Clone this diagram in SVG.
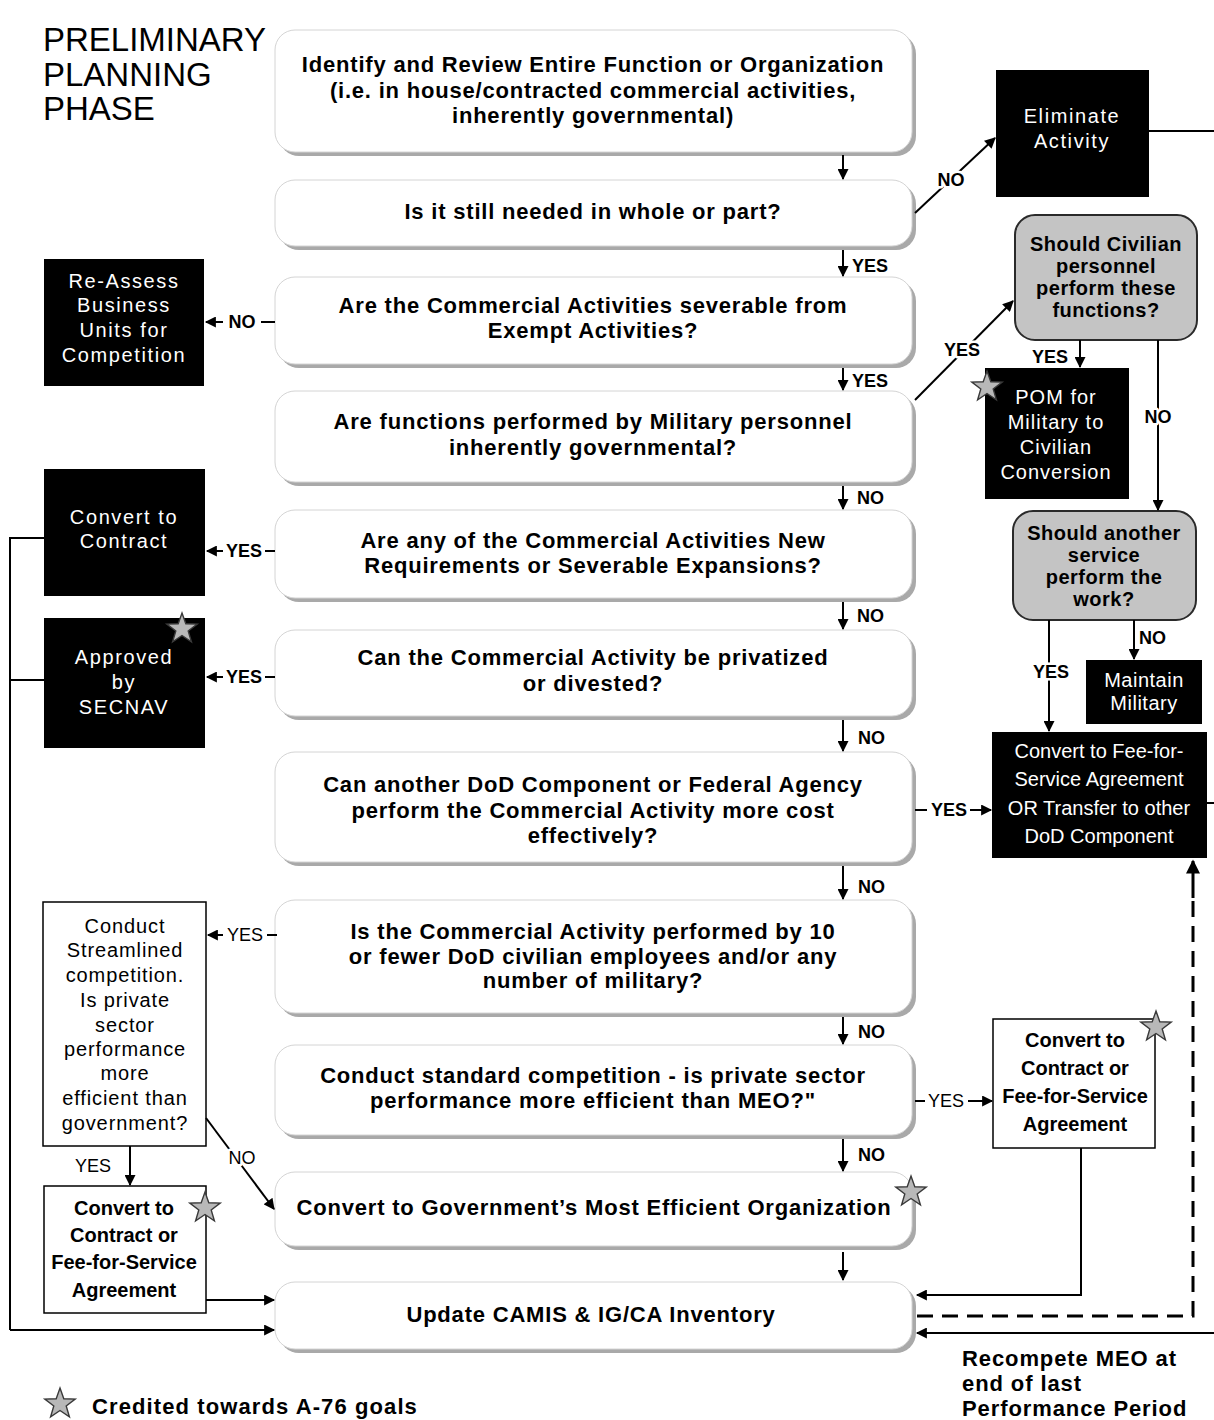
<svg xmlns="http://www.w3.org/2000/svg" width="1214" height="1420" viewBox="0 0 1214 1420">
<defs>
<style>
.bx{fill:#fff;stroke:#d4d4d4;stroke-width:1}
.sh{fill:#a9a9a9}
.ct{font-family:"Liberation Sans",Arial,sans-serif;font-weight:bold;font-size:22px;letter-spacing:0.8px;fill:#000;text-anchor:middle}
.blk{fill:#000}
.wt{font-family:"Liberation Sans",Arial,sans-serif;font-size:20px;fill:#fff;text-anchor:middle}
.wts{letter-spacing:1.6px}
.gr{fill:#c4c4c4;stroke:#2a2a2a;stroke-width:2}
.gt{font-family:"Liberation Sans",Arial,sans-serif;font-weight:bold;font-size:20px;letter-spacing:0.5px;fill:#000;text-anchor:middle}
.wb{fill:#fff;stroke:#000;stroke-width:1.5}
.rt{font-family:"Liberation Sans",Arial,sans-serif;font-size:20px;letter-spacing:0.9px;fill:#000;text-anchor:middle}
.bt{font-family:"Liberation Sans",Arial,sans-serif;font-weight:bold;font-size:20px;fill:#000;text-anchor:middle}
.lb{font-family:"Liberation Sans",Arial,sans-serif;font-weight:bold;font-size:18px;fill:#000}
.lr{font-family:"Liberation Sans",Arial,sans-serif;font-size:18px;fill:#000}
.halo{paint-order:stroke;stroke:#fff;stroke-width:5px;stroke-linejoin:round}
.ln{fill:none;stroke:#000;stroke-width:2}
.la{fill:none;stroke:#000;stroke-width:2;marker-end:url(#ah)}
.star{fill:#b8b8b8;stroke:#3a3a3a;stroke-width:1.4}
.big{font-family:"Liberation Sans",Arial,sans-serif;font-weight:bold;font-size:22px;fill:#000}
</style>
<marker id="ah" viewBox="0 0 10 10" refX="9" refY="5" markerWidth="12" markerHeight="11" markerUnits="userSpaceOnUse" orient="auto">
<path d="M0,0 L10,5 L0,10 z" fill="#000"/>
</marker>
<marker id="ahb" viewBox="0 0 10 10" refX="9" refY="5" markerWidth="16" markerHeight="14" markerUnits="userSpaceOnUse" orient="auto">
<path d="M0,0 L10,5 L0,10 z" fill="#000"/>
</marker>
<polygon id="st" points="0,-16 3.8,-5.3 15.2,-4.9 6.2,2 9.4,12.9 0,6.5 -9.4,12.9 -6.2,2 -15.2,-4.9 -3.8,-5.3"/>
</defs>
<rect width="1214" height="1420" fill="#fff"/>

<text x="43" y="51" font-family="Liberation Sans,Arial,sans-serif" font-size="33" fill="#000">PRELIMINARY</text>
<text x="43" y="86" font-family="Liberation Sans,Arial,sans-serif" font-size="33" fill="#000">PLANNING</text>
<text x="43" y="120" font-family="Liberation Sans,Arial,sans-serif" font-size="33" fill="#000">PHASE</text>

<!-- central boxes -->
<g id="n1"><rect class="sh" x="279" y="34" width="637" height="122" rx="20"/><rect class="bx" x="275" y="30" width="637" height="122" rx="20"/>
<text class="ct" x="593" y="72">Identify and Review Entire Function or Organization</text>
<text class="ct" x="593" y="98">(i.e. in house/contracted commercial activities,</text>
<text class="ct" x="593" y="123">inherently governmental)</text></g>
<g id="n2"><rect class="sh" x="279" y="184" width="637" height="66" rx="20"/><rect class="bx" x="275" y="180" width="637" height="66" rx="20"/>
<text class="ct" x="593" y="219">Is it still needed in whole or part?</text></g>
<g id="n3"><rect class="sh" x="279" y="281" width="637" height="87" rx="20"/><rect class="bx" x="275" y="277" width="637" height="87" rx="20"/>
<text class="ct" x="593" y="313">Are the Commercial Activities severable from</text>
<text class="ct" x="593" y="338">Exempt Activities?</text></g>
<g id="n4"><rect class="sh" x="279" y="395" width="637" height="91" rx="20"/><rect class="bx" x="275" y="391" width="637" height="91" rx="20"/>
<text class="ct" x="593" y="429">Are functions performed by Military personnel</text>
<text class="ct" x="593" y="455">inherently governmental?</text></g>
<g id="n5"><rect class="sh" x="279" y="514" width="637" height="88" rx="20"/><rect class="bx" x="275" y="510" width="637" height="88" rx="20"/>
<text class="ct" x="593" y="548">Are any of the Commercial Activities New</text>
<text class="ct" x="593" y="573">Requirements or Severable Expansions?</text></g>
<g id="n6"><rect class="sh" x="279" y="634" width="637" height="86" rx="20"/><rect class="bx" x="275" y="630" width="637" height="86" rx="20"/>
<text class="ct" x="593" y="665">Can the Commercial Activity be privatized</text>
<text class="ct" x="593" y="691">or divested?</text></g>
<g id="n7"><rect class="sh" x="279" y="756" width="637" height="110" rx="20"/><rect class="bx" x="275" y="752" width="637" height="110" rx="20"/>
<text class="ct" x="593" y="792">Can another DoD Component or Federal Agency</text>
<text class="ct" x="593" y="818">perform the Commercial Activity more cost</text>
<text class="ct" x="593" y="843">effectively?</text></g>
<g id="n8"><rect class="sh" x="279" y="904" width="637" height="113" rx="20"/><rect class="bx" x="275" y="900" width="637" height="113" rx="20"/>
<text class="ct" x="593" y="939">Is the Commercial Activity performed by 10</text>
<text class="ct" x="593" y="964">or fewer DoD civilian employees and/or any</text>
<text class="ct" x="593" y="988">number of military?</text></g>
<g id="n9"><rect class="sh" x="279" y="1049" width="637" height="90" rx="20"/><rect class="bx" x="275" y="1045" width="637" height="90" rx="20"/>
<text class="ct" x="593" y="1083">Conduct standard competition - is private sector</text>
<text class="ct" x="593" y="1108">performance more efficient than MEO?"</text></g>
<g id="n10"><rect class="sh" x="279" y="1176" width="637" height="74" rx="20"/><rect class="bx" x="275" y="1172" width="637" height="74" rx="20"/>
<text class="ct" x="594" y="1215">Convert to Government’s Most Efficient Organization</text>
<use href="#st" class="star" transform="translate(911,1192)"/></g>
<g id="n11"><rect class="sh" x="279" y="1286" width="637" height="67" rx="20"/><rect class="bx" x="275" y="1282" width="637" height="67" rx="20"/>
<text class="ct" x="591" y="1322">Update CAMIS &amp; IG/CA Inventory</text></g>

<!-- left nodes -->
<g id="reassess"><rect class="blk" x="44" y="259" width="160" height="127"/>
<text class="wt wts" x="124" y="288">Re-Assess</text><text class="wt wts" x="124" y="312">Business</text><text class="wt wts" x="124" y="337">Units for</text><text class="wt wts" x="124" y="362">Competition</text></g>
<g id="contract"><rect class="blk" x="44" y="469" width="161" height="127"/>
<text class="wt wts" x="124" y="524">Convert to</text><text class="wt wts" x="124" y="548">Contract</text></g>
<g id="secnav"><rect class="blk" x="44" y="618" width="161" height="130"/>
<text class="wt wts" x="124" y="664">Approved</text><text class="wt wts" x="124" y="689">by</text><text class="wt wts" x="124" y="714">SECNAV</text>
<use href="#st" class="star" transform="translate(182,629)"/></g>
<g id="streamlined"><rect class="wb" x="43" y="902" width="163" height="244"/>
<text class="rt" x="125" y="933">Conduct</text><text class="rt" x="125" y="957">Streamlined</text><text class="rt" x="125" y="982">competition.</text><text class="rt" x="125" y="1007">Is private</text><text class="rt" x="125" y="1032">sector</text><text class="rt" x="125" y="1056">performance</text><text class="rt" x="125" y="1080">more</text><text class="rt" x="125" y="1105">efficient than</text><text class="rt" x="125" y="1130">government?</text></g>
<g id="convertL"><rect class="wb" x="44" y="1186" width="162" height="127"/>
<text class="bt" x="124" y="1215">Convert to</text><text class="bt" x="124" y="1242">Contract or</text><text class="bt" x="124" y="1269">Fee-for-Service</text><text class="bt" x="124" y="1297">Agreement</text>
<use href="#st" class="star" transform="translate(205,1208)"/></g>

<!-- right nodes -->
<g id="eliminate"><rect class="blk" x="996" y="70" width="153" height="127"/>
<text class="wt wts" x="1072" y="123">Eliminate</text><text class="wt wts" x="1072" y="148">Activity</text></g>
<g id="civilian"><rect class="gr" x="1015" y="215" width="182" height="125" rx="20"/>
<text class="gt" x="1106" y="251">Should Civilian</text><text class="gt" x="1106" y="273">personnel</text><text class="gt" x="1106" y="295">perform these</text><text class="gt" x="1106" y="317">functions?</text></g>
<g id="pom"><rect class="blk" x="985" y="368" width="144" height="131"/>
<text class="wt" x="1056" y="404" letter-spacing="1">POM for</text><text class="wt" x="1056" y="429" letter-spacing="1">Military to</text><text class="wt" x="1056" y="454" letter-spacing="1">Civilian</text><text class="wt" x="1056" y="479" letter-spacing="1">Conversion</text>
<use href="#st" class="star" transform="translate(987,387)"/></g>
<g id="another"><rect class="gr" x="1013" y="511" width="183" height="109" rx="20"/>
<text class="gt" x="1104" y="540">Should another</text><text class="gt" x="1104" y="562">service</text><text class="gt" x="1104" y="584">perform the</text><text class="gt" x="1104" y="606">work?</text></g>
<g id="maintain"><rect class="blk" x="1086" y="660" width="116" height="64"/>
<text class="wt" x="1144" y="687" letter-spacing="0.5">Maintain</text><text class="wt" x="1144" y="710" letter-spacing="0.5">Military</text></g>
<g id="fee"><rect class="blk" x="992" y="732" width="215" height="126"/>
<text class="wt" x="1099" y="758">Convert to Fee-for-</text><text class="wt" x="1099" y="786">Service Agreement</text><text class="wt" x="1099" y="815">OR Transfer to other</text><text class="wt" x="1099" y="843">DoD Component</text></g>
<g id="convertR"><rect class="wb" x="993" y="1019" width="162" height="129"/>
<text class="bt" x="1075" y="1047">Convert to</text><text class="bt" x="1075" y="1075">Contract or</text><text class="bt" x="1075" y="1103">Fee-for-Service</text><text class="bt" x="1075" y="1131">Agreement</text>
<use href="#st" class="star" transform="translate(1156,1027)"/></g>

<g id="recompete"><text class="big" letter-spacing="0.9" x="962" y="1366">Recompete MEO at</text>
<text class="big" letter-spacing="0.9" x="962" y="1391">end of last</text>
<text class="big" letter-spacing="0.9" x="962" y="1416">Performance Period</text></g>

<g id="legend"><use href="#st" class="star" transform="translate(60,1404)"/>
<text class="big" letter-spacing="1.1" x="92" y="1414">Credited towards A-76 goals</text></g>

<!-- connectors -->
<g id="connectors">
<path class="la" d="M843,155 V179"/>
<path class="la" d="M843,250 V276"/><text class="lb" x="852" y="272">YES</text>
<path class="la" d="M843,368 V390"/><text class="lb" x="852" y="387">YES</text>
<path class="la" d="M843,486 V509"/><text class="lb" x="857" y="504">NO</text>
<path class="la" d="M843,602 V629"/><text class="lb" x="857" y="622">NO</text>
<path class="la" d="M843,720 V751"/><text class="lb" x="858" y="744">NO</text>
<path class="la" d="M843,866 V899"/><text class="lb" x="858" y="893">NO</text>
<path class="la" d="M843,1017 V1044"/><text class="lb" x="858" y="1038">NO</text>
<path class="la" d="M843,1139 V1171"/><text class="lb" x="858" y="1161">NO</text>
<path class="la" d="M843,1252 V1280"/>

<path class="ln" d="M275,322 H261"/><path class="la" d="M223,322 H206"/><text class="lb" x="242" y="328" text-anchor="middle">NO</text>
<path class="ln" d="M275,551 H265"/><path class="la" d="M223,551 H207"/><text class="lb" x="244" y="557" text-anchor="middle">YES</text>
<path class="ln" d="M275,677 H265"/><path class="la" d="M223,677 H207"/><text class="lb" x="244" y="683" text-anchor="middle">YES</text>
<path class="ln" d="M277,935 H267"/><path class="la" d="M223,935 H208"/><text class="lr" x="245" y="941" text-anchor="middle">YES</text>

<path class="la" d="M915,213 L995,138"/><text class="lb halo" x="951" y="186" text-anchor="middle">NO</text>
<path class="ln" d="M1149,131 H1214"/>
<path class="la" d="M915,400 L1013,301"/><text class="lb halo" x="962" y="356" text-anchor="middle">YES</text>
<path class="la" d="M1080,340 V367"/><text class="lb" x="1050" y="363" text-anchor="middle">YES</text>
<path class="la" d="M1158,340 V510"/><text class="lb halo" x="1158" y="423" text-anchor="middle">NO</text>
<path class="la" d="M1049,620 V731"/><text class="lb halo" x="1051" y="678" text-anchor="middle">YES</text>
<path class="la" d="M1134,620 V659"/><text class="lb" x="1139" y="644">NO</text>
<path class="ln" d="M1207,803 H1214"/>

<path class="ln" d="M915,810 H927"/><path class="la" d="M970,810 H991"/><text class="lb" x="949" y="816" text-anchor="middle">YES</text>
<path class="ln" d="M915,1101 H925"/><path class="la" d="M968,1101 H992"/><text class="lr" x="946" y="1107" text-anchor="middle">YES</text>

<path class="la" d="M206,1118 L274,1209"/><text class="lr halo" x="242" y="1164" text-anchor="middle">NO</text>
<path class="la" d="M130,1146 V1185"/><text class="lr" x="93" y="1172" text-anchor="middle">YES</text>
<path class="la" d="M206,1300 H274"/>
<path class="ln" d="M44,538 H10 V1330"/><path class="ln" d="M44,680 H10"/>
<path class="la" d="M10,1330 H274"/>

<path class="la" d="M1081,1148 V1295 H917"/>
<path class="la" d="M1214,1333 H917"/>
<path fill="none" stroke="#000" stroke-width="3" stroke-dasharray="16 9" d="M917,1316 H1193 V895"/>
<path fill="none" stroke="#000" stroke-width="3" marker-end="url(#ahb)" d="M1193,898 V861"/>
</g>
</svg>
